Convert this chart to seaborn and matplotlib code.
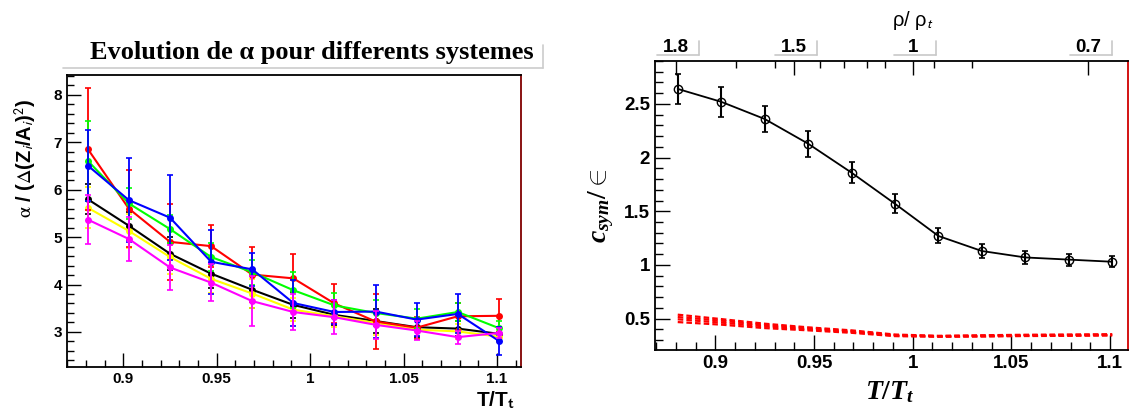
import pandas as pd
import seaborn as sns
import matplotlib.pyplot as plt
import matplotlib.transforms as mtransforms
from matplotlib.lines import Line2D
from matplotlib.ticker import MultipleLocator, FixedLocator

# Points en T/Tt (communs aux deux graphes)
t_ratio = [0.881, 0.903, 0.925, 0.947, 0.969, 0.991, 1.013, 1.035, 1.057, 1.079, 1.101]

# Graphe de gauche : alpha / (Delta(Z/A)^2) pour chaque systeme
alpha_noir = [5.80, 5.24, 4.65, 4.23, 3.89, 3.57, 3.36, 3.23, 3.10, 3.07, 2.96]
err_noir = [0.32, 0.30, 0.35, 0.30, 0.38, 0.28, 0.22, 0.25, 0.20, 0.15, 0.12]
alpha_jaune = [5.62, 5.13, 4.58, 4.12, 3.81, 3.47, 3.33, 3.19, 3.05, 3.01, 2.90]
err_jaune = [0.43, 0.35, 0.35, 0.30, 0.30, 0.25, 0.22, 0.25, 0.20, 0.15, 0.12]
alpha_rouge = [6.86, 5.60, 4.90, 4.81, 4.21, 4.13, 3.60, 3.22, 3.09, 3.33, 3.34]
err_rouge = [1.28, 0.81, 0.80, 0.44, 0.58, 0.52, 0.42, 0.57, 0.23, 0.28, 0.35]
alpha_vert = [6.61, 5.71, 5.17, 4.58, 4.26, 3.88, 3.56, 3.40, 3.28, 3.42, 3.08]
err_vert = [0.84, 0.32, 0.30, 0.30, 0.26, 0.38, 0.26, 0.27, 0.20, 0.20, 0.15]
alpha_bleu = [6.51, 5.78, 5.41, 4.48, 4.32, 3.61, 3.42, 3.43, 3.26, 3.38, 2.81]
err_bleu = [0.74, 0.89, 0.90, 0.68, 0.35, 0.48, 0.25, 0.55, 0.34, 0.41, 0.29]
alpha_magenta = [5.37, 4.96, 4.36, 4.04, 3.65, 3.42, 3.31, 3.15, 3.03, 2.89, 2.98]
err_magenta = [0.52, 0.46, 0.48, 0.39, 0.53, 0.37, 0.36, 0.30, 0.20, 0.14, 0.10]

# Graphe de droite : c_sym / epsilon
csym = [2.64, 2.52, 2.36, 2.13, 1.86, 1.57, 1.27, 1.13, 1.07, 1.05, 1.03]
csym_err = [0.14, 0.14, 0.125, 0.12, 0.10, 0.09, 0.07, 0.065, 0.06, 0.055, 0.05]

# courbes en pointilles rouges
tirets_1 = [0.537, 0.496, 0.453, 0.419, 0.391, 0.352, 0.340, 0.345, 0.350, 0.352, 0.355]
tirets_2 = [0.515, 0.481, 0.440, 0.410, 0.383, 0.347, 0.337, 0.341, 0.346, 0.348, 0.351]
tirets_3 = [0.494, 0.463, 0.428, 0.400, 0.375, 0.342, 0.334, 0.337, 0.342, 0.344, 0.347]
tirets_4 = [0.468, 0.444, 0.412, 0.391, 0.368, 0.337, 0.331, 0.333, 0.338, 0.340, 0.343]

# axe du haut rho/rho_t
rho_labels = ['1.8', '1.5', '1', '0.7']
rho_pos = [0.880, 0.940, 1.000, 1.089]
rho_minor = [0.9105, 0.930, 0.953, 0.965, 0.977, 0.986, 1.011, 1.030]

sns.set_style('ticks')
plt.rcParams['font.family'] = ['Liberation Sans', 'DejaVu Sans']
plt.rcParams['mathtext.fontset'] = 'custom'
plt.rcParams['mathtext.it'] = 'Liberation Serif:italic:bold'
plt.rcParams['mathtext.rm'] = 'Liberation Serif:bold'
plt.rcParams['mathtext.bf'] = 'Liberation Serif:bold'
plt.rcParams['text.color'] = 'black'
plt.rcParams['xtick.color'] = 'black'
plt.rcParams['ytick.color'] = 'black'

systemes = ['noir', 'jaune', 'rouge', 'vert', 'bleu', 'magenta']
couleurs = {'noir': '#000000', 'jaune': '#ffff00', 'rouge': '#ff0000',
            'vert': '#00ff00', 'bleu': '#0000ff', 'magenta': '#ff00ff'}
valeurs = {'noir': alpha_noir, 'jaune': alpha_jaune, 'rouge': alpha_rouge,
           'vert': alpha_vert, 'bleu': alpha_bleu, 'magenta': alpha_magenta}
erreurs = {'noir': err_noir, 'jaune': err_jaune, 'rouge': err_rouge,
           'vert': err_vert, 'bleu': err_bleu, 'magenta': err_magenta}

df = pd.concat([pd.DataFrame({'T': t_ratio, 'alpha': valeurs[s], 'err': erreurs[s], 'systeme': s})
                for s in systemes], ignore_index=True)

fig = plt.figure(figsize=(11.38, 4.17), dpi=100)
ax1 = fig.add_axes([0.0589, 0.1199, 0.3989, 0.7002])
ax2 = fig.add_axes([0.5756, 0.1607, 0.4156, 0.6930])

# ---- graphe de gauche
for s in systemes:
    sub = df[df['systeme'] == s]
    sns.lineplot(data=sub, x='T', y='alpha', color=couleurs[s], marker='o', markersize=5,
                 markeredgewidth=0, linewidth=1.5, sort=False, legend=False, ax=ax1)
    ax1.errorbar(sub['T'], sub['alpha'], yerr=sub['err'], fmt='none', ecolor=couleurs[s],
                 elinewidth=1.3, capsize=2, capthick=1.2)

ax1.set_xlim(0.8699, 1.1128)
ax1.set_ylim(2.26, 8.42)
ax1.xaxis.set_major_locator(FixedLocator([0.9, 0.95, 1.0, 1.05, 1.1]))
ax1.xaxis.set_minor_locator(MultipleLocator(0.01))
ax1.yaxis.set_major_locator(MultipleLocator(1))
ax1.yaxis.set_minor_locator(MultipleLocator(0.2))
ax1.set_xticklabels(['0.9', '0.95', '1', '1.05', '1.1'])
ax1.tick_params(which='both', direction='in', labelsize=11, colors='black')
ax1.tick_params(which='major', length=10, width=1)
ax1.tick_params(which='minor', length=5, width=1)
for lab in ax1.get_xticklabels() + ax1.get_yticklabels():
    lab.set_fontweight('bold')
ax1.set_xlabel('')
ax1.set_ylabel('')
for sp in ax1.spines.values():
    sp.set_linewidth(1.3)
    sp.set_color('black')
ax1.spines['right'].set_color('#800000')

fig.text(312 / 1138, 1 - 53 / 417, 'Evolution de α pour differents systemes',
         ha='center', va='center', fontsize=19, fontweight='bold', family='Liberation Serif')
fig.add_artist(Line2D([63 / 1138, 543 / 1138], [1 - 68 / 417] * 2, color='#cccccc', lw=1.2))
fig.add_artist(Line2D([543 / 1138] * 2, [1 - 45 / 417, 1 - 68 / 417], color='#cccccc', lw=1.2))

fig.text(26 / 1138, 1 - 158 / 417,
         r'$\mathrm{\alpha}$ / ($\mathrm{\Delta}$(Z$_{\mathsf{i}}$/A$_{\mathsf{i}}$)$^{\mathsf{2}}$)',
         rotation=90, ha='center', va='center', fontsize=14.5, fontweight='bold',
         math_fontfamily='stix')
fig.text(515 / 1138, 1 - 400 / 417, r'T/T$_{\mathbf{t}}$', ha='right', va='center',
         fontsize=15, fontweight='bold', math_fontfamily='stixsans')

# ---- graphe de droite
for courbe in [tirets_1, tirets_2, tirets_3, tirets_4]:
    sns.lineplot(x=t_ratio, y=courbe, color='red', linewidth=1.6, linestyle=(0, (2.5, 1.4)),
                 sort=False, legend=False, ax=ax2)

sns.lineplot(x=t_ratio, y=csym, color='black', marker='o', markersize=6, markerfacecolor='none',
             markeredgecolor='black', markeredgewidth=1, linewidth=1.3, sort=False,
             legend=False, ax=ax2)
ax2.errorbar(t_ratio, csym, yerr=csym_err, fmt='none', ecolor='black', elinewidth=1.5,
             capsize=2, capthick=1.2)

ax2.set_xlim(0.8695, 1.109)
ax2.set_ylim(0.208, 2.90)
ax2.xaxis.set_major_locator(FixedLocator([0.9, 0.95, 1.0, 1.05, 1.1]))
ax2.xaxis.set_minor_locator(MultipleLocator(0.01))
ax2.yaxis.set_major_locator(FixedLocator([0.5, 1.0, 1.5, 2.0, 2.5]))
ax2.yaxis.set_minor_locator(MultipleLocator(0.1))
ax2.set_xticklabels(['0.9', '0.95', '1', '1.05', '1.1'])
ax2.set_yticklabels(['0.5', '1', '1.5', '2', '2.5'])
ax2.tick_params(which='both', direction='in', labelsize=13.5, colors='black')
ax2.tick_params(which='major', length=11, width=1)
ax2.tick_params(which='minor', length=6, width=1)
for lab in ax2.get_xticklabels() + ax2.get_yticklabels():
    lab.set_fontweight('bold')
for sp in ax2.spines.values():
    sp.set_linewidth(1.3)
    sp.set_color('black')
ax2.spines['right'].set_color('#d00000')

# axe rho/rho_t en haut
ax3 = ax2.twiny()
ax3.set_xlim(ax2.get_xlim())
ax3.xaxis.set_major_locator(FixedLocator(rho_pos))
ax3.xaxis.set_minor_locator(FixedLocator(rho_minor))
ax3.tick_params(which='both', direction='in', labeltop=False, colors='black')
ax3.tick_params(which='major', length=10, width=1)
ax3.tick_params(which='minor', length=5, width=1)
for sp in ax3.spines.values():
    sp.set_visible(False)
trans = mtransforms.blended_transform_factory(ax2.transData, ax2.transAxes)
for lab, pos in zip(rho_labels, rho_pos):
    ax2.text(pos, 1.048, lab, transform=trans, ha='center', va='center',
             fontsize=13.5, fontweight='bold')
    ax2.add_line(Line2D([pos - 0.0095, pos + 0.0117], [1.021, 1.021], transform=trans,
                        color='#c8c8c8', lw=1.2, clip_on=False))
    ax2.add_line(Line2D([pos + 0.0117, pos + 0.0117], [1.021, 1.069], transform=trans,
                        color='#c8c8c8', lw=1.2, clip_on=False))

fig.text(913 / 1138, 1 - 20 / 417, r'ρ/ ρ$_{t}$', ha='center', va='center', fontsize=14.5,
         math_fontfamily='stixsans')
fig.text(601 / 1138, 1 - 206 / 417, r'$c_{sym}/\in$', rotation=90, ha='center', va='center',
         fontsize=20, math_fontfamily='custom')
fig.text(890 / 1138, 1 - 392 / 417, r'$T/T_{t}$', ha='center', va='center', fontsize=20,
         math_fontfamily='custom')

fig.savefig('out.png', dpi=100)
